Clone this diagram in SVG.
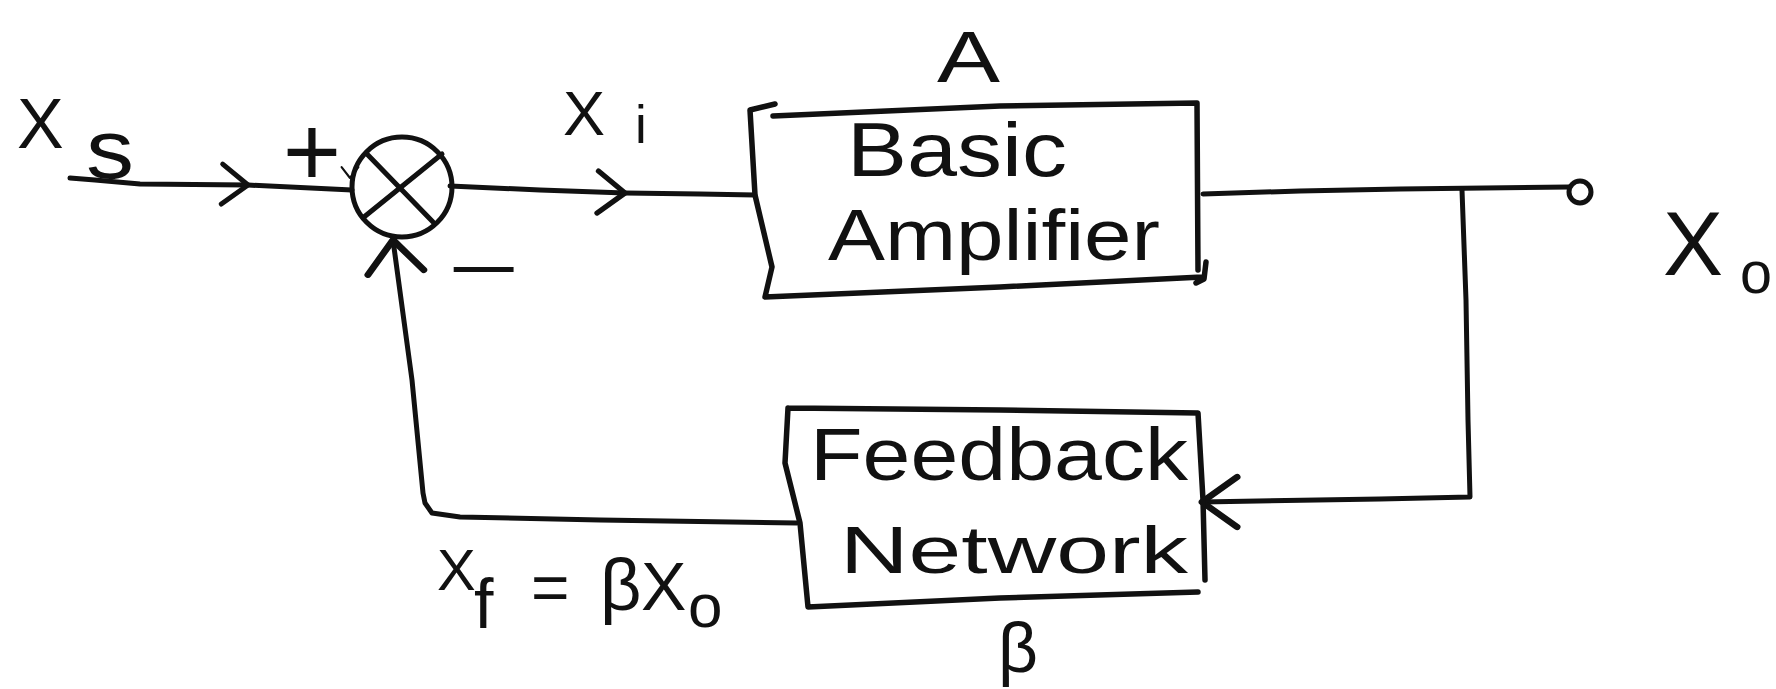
<svg xmlns="http://www.w3.org/2000/svg" xmlns:xlink="http://www.w3.org/1999/xlink" width="1776" height="689" viewBox="0 0 1776 689">
  <style>
    .ln { fill: none; stroke: #111; stroke-width: 5; stroke-linecap: round; stroke-linejoin: round; }
    .bx { fill: none; stroke: #111; stroke-width: 5.5; stroke-linecap: round; stroke-linejoin: round; }
    .tx { font-family: "Liberation Sans", Arial, sans-serif; fill: #111; }
  </style>
  <defs>
    <!-- open chevron arrowhead, apex at origin, pointing along +x -->
    <path id="chev" class="ln" d="M-26,-20 L0,0 L-26,20"/>
  </defs>
  <rect width="1776" height="689" fill="#fff"/>

  <!-- connectors -->
  <g id="connectors">
    <!-- input signal into summing junction -->
    <polyline class="ln" points="70,178 95,180 140,184 248,185 352,190"/>
    <use href="#chev" transform="translate(248,185) rotate(2)"/>
    <use href="#chev" transform="translate(350,178) rotate(90) scale(0.42)"/>
    <!-- error signal into amplifier -->
    <polyline class="ln" points="450,186 540,190 625,193 700,194 755,195"/>
    <use href="#chev" transform="translate(625,193) rotate(2) scale(1.05)"/>
    <!-- amplifier output to terminal -->
    <polyline class="ln" points="1203,194 1300,191 1400,189 1569,187"/>
    <!-- sampling branch down to feedback network -->
    <polyline class="ln" points="1462,190 1466,300 1468,420 1470,497 1380,499 1202,502"/>
    <use href="#chev" transform="translate(1202,502) rotate(180) scale(1.35,1.25)"/>
    <!-- feedback signal back to the summing junction -->
    <polyline class="ln" points="797,523 600,520 460,517 432,513 425,503 423,493 412,380 393,240"/>
    <use href="#chev" transform="translate(393,240) rotate(-95) scale(1.25,1.4)"/>
  </g>

  <!-- summing junction -->
  <g id="node-sum">
    <circle class="ln" cx="402" cy="187" r="50"/>
    <line class="ln" x1="366" y1="153" x2="433" y2="222"/>
    <line class="ln" x1="442" y1="154" x2="364" y2="217" stroke-width="6"/>
    <text class="tx" x="312" y="186" font-size="100" text-anchor="middle">+</text>
    <text class="tx" x="448" y="293" font-size="70" textLength="72" lengthAdjust="spacingAndGlyphs">−</text>
  </g>

  <!-- basic amplifier block -->
  <g id="node-amplifier">
    <path class="bx" d="M775,104 L750,110 L755,195 L772,267 L765,297 L1000,287 L1202,277 M773,116 L1000,106 L1197,103 L1198,270 M1206,262 L1204,279 L1196,283"/>
    <text class="tx" x="847" y="176" font-size="76" textLength="220" lengthAdjust="spacingAndGlyphs">Basic</text>
    <text class="tx" x="828" y="260" font-size="72" textLength="332" lengthAdjust="spacingAndGlyphs">Amplifier</text>
    <text class="tx" x="937" y="82" font-size="72" textLength="63" lengthAdjust="spacingAndGlyphs">A</text>
  </g>

  <!-- feedback network block -->
  <g id="node-feedback">
    <path class="bx" d="M788,408 L1000,410 L1198,413 L1203,500 L1205,580 M1198,592 L1000,598 L808,607 L800,523 L785,463 L788,408"/>
    <text class="tx" x="810" y="480" font-size="74" textLength="378" lengthAdjust="spacingAndGlyphs">Feedback</text>
    <text class="tx" x="840" y="573" font-size="66" textLength="348" lengthAdjust="spacingAndGlyphs">Network</text>
    <text class="tx" x="998" y="672" font-size="70" textLength="40" lengthAdjust="spacingAndGlyphs">β</text>
  </g>

  <!-- output terminal -->
  <g id="node-output">
    <circle class="ln" cx="1580" cy="192" r="11" fill="#fff"/>
    <text class="tx"><tspan x="1663" y="275" font-size="90">X</tspan><tspan x="1740" y="293" font-size="60" textLength="32" lengthAdjust="spacingAndGlyphs">o</tspan></text>
  </g>

  <!-- signal labels -->
  <g id="label-source">
    <text class="tx"><tspan x="17" y="148" font-size="70">X</tspan><tspan x="86" y="178" font-size="84" textLength="48" lengthAdjust="spacingAndGlyphs">s</tspan></text>
  </g>
  <g id="label-error">
    <text class="tx"><tspan x="563" y="135" font-size="63">X</tspan><tspan x="635" y="143" font-size="53">i</tspan></text>
  </g>
  <g id="label-feedback">
    <text class="tx"><tspan x="437" y="590" font-size="58">X</tspan><tspan x="474" y="628" font-size="70">f</tspan><tspan x="531" y="610" font-size="66">=</tspan><tspan x="600" y="610" font-size="72">β</tspan><tspan x="641" y="610" font-size="68">X</tspan><tspan x="688" y="627" font-size="62">o</tspan></text>
  </g>
</svg>
